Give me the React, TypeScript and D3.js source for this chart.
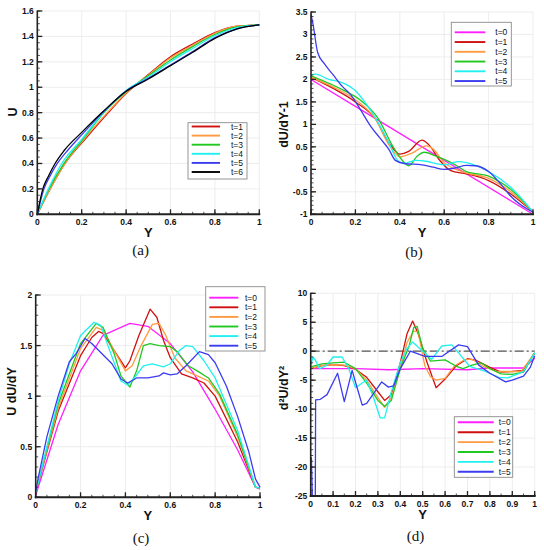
import { useEffect } from 'react';
import * as d3 from 'd3';

type Pt = [number, number];

// ---- panel (a): U vs Y
const aLabels = ['t=1', 't=2', 't=3', 't=4', 't=5', 't=6'];
const aT1: Pt[] = [[0, 0], [0.055, 0.19], [0.125, 0.4], [0.22, 0.6], [0.32, 0.8], [0.4, 0.95], [0.5, 1.1], [0.6, 1.24], [0.7, 1.34], [0.8, 1.43], [0.9, 1.48], [1, 1.49]];
const aT2: Pt[] = [[0, 0], [0.055, 0.19], [0.125, 0.4], [0.215, 0.6], [0.31, 0.79], [0.4, 0.955], [0.5, 1.095], [0.6, 1.23], [0.7, 1.33], [0.8, 1.425], [0.9, 1.48], [1, 1.49]];
const aT3: Pt[] = [[0, 0], [0.05, 0.19], [0.12, 0.4], [0.21, 0.6], [0.3, 0.8], [0.4, 0.965], [0.5, 1.09], [0.6, 1.215], [0.7, 1.32], [0.8, 1.415], [0.9, 1.475], [1, 1.49]];
const aT4: Pt[] = [[0, 0], [0.05, 0.2], [0.11, 0.4], [0.2, 0.59], [0.3, 0.805], [0.4, 0.975], [0.5, 1.08], [0.6, 1.2], [0.7, 1.305], [0.8, 1.405], [0.9, 1.47], [1, 1.49]];
const aT5: Pt[] = [[0, 0], [0.03, 0.2], [0.06, 0.31], [0.09, 0.4], [0.14, 0.51], [0.2, 0.625], [0.3, 0.81], [0.4, 0.97], [0.5, 1.07], [0.6, 1.175], [0.7, 1.28], [0.8, 1.39], [0.9, 1.46], [1, 1.49]];
const aT6: Pt[] = [[0, 0], [0.025, 0.2], [0.05, 0.3], [0.08, 0.4], [0.12, 0.5], [0.2, 0.645], [0.3, 0.815], [0.4, 0.968], [0.5, 1.065], [0.6, 1.17], [0.7, 1.275], [0.8, 1.385], [0.9, 1.46], [1, 1.49]];

// ---- panel (b): dU/dY-1 vs Y
const tLabels = ['t=0', 't=1', 't=2', 't=3', 't=4', 't=5'];
const bT0: Pt[] = [[0, 2], [0.5, 0.5], [1, -1]];
const bT1: Pt[] = [[0, 2.05], [0.1, 1.8], [0.2, 1.5], [0.29, 1.12], [0.35, 0.6], [0.4, 0.34], [0.44, 0.4], [0.5, 0.65], [0.53, 0.55], [0.58, 0.2], [0.63, -0.03], [0.7, -0.1], [0.8, -0.25], [0.9, -0.55], [1, -0.95]];
const bT2: Pt[] = [[0, 2.05], [0.1, 1.83], [0.2, 1.55], [0.29, 1.12], [0.35, 0.55], [0.4, 0.28], [0.45, 0.35], [0.52, 0.52], [0.55, 0.45], [0.6, 0.15], [0.68, -0.05], [0.8, -0.2], [0.9, -0.5], [1, -0.95]];
const bT3: Pt[] = [[0, 2.08], [0.15, 1.75], [0.22, 1.55], [0.3, 1.15], [0.37, 0.5], [0.42, 0.15], [0.44, 0.08], [0.48, 0.3], [0.51, 0.38], [0.56, 0.3], [0.6, 0.22], [0.65, 0.1], [0.7, -0.05], [0.8, -0.15], [0.9, -0.45], [1, -0.95]];
const bT4: Pt[] = [[0, 2.1], [0.02, 2.12], [0.08, 2.0], [0.14, 1.93], [0.2, 1.75], [0.27, 1.3], [0.35, 0.6], [0.39, 0.2], [0.42, 0.13], [0.47, 0.2], [0.52, 0.18], [0.57, 0.12], [0.6, 0.1], [0.66, 0.17], [0.7, 0.15], [0.8, -0.05], [0.9, -0.4], [1, -0.95]];
const bT5: Pt[] = [[0, 3.45], [0.01, 3.2], [0.03, 2.6], [0.06, 2.35], [0.1, 2.1], [0.14, 1.85], [0.18, 1.65], [0.22, 1.35], [0.27, 0.95], [0.31, 0.7], [0.35, 0.45], [0.38, 0.2], [0.42, 0.13], [0.5, 0.1], [0.55, 0.05], [0.6, 0.0], [0.65, 0.03], [0.7, 0.09], [0.74, 0.08], [0.8, -0.05], [0.85, -0.3], [0.9, -0.6], [0.98, -0.9], [1, -0.95]];

// ---- panel (c): U dU/dY vs Y
const cT0: Pt[] = [[0, 0.02], [0.1, 0.72], [0.2, 1.25], [0.3, 1.6], [0.42, 1.72], [0.5, 1.69], [0.6, 1.52], [0.7, 1.24], [0.8, 0.87], [0.9, 0.47], [0.98, 0.1], [1, 0.08]];
const cT1: Pt[] = [[0, 0.05], [0.1, 0.85], [0.2, 1.4], [0.25, 1.58], [0.28, 1.64], [0.3, 1.62], [0.35, 1.45], [0.4, 1.28], [0.42, 1.35], [0.46, 1.6], [0.51, 1.86], [0.54, 1.78], [0.57, 1.55], [0.6, 1.38], [0.65, 1.22], [0.7, 1.18], [0.75, 1.13], [0.8, 1.0], [0.9, 0.55], [0.98, 0.1], [1, 0.09]];
const cT2: Pt[] = [[0, 0.05], [0.1, 0.88], [0.2, 1.47], [0.27, 1.68], [0.3, 1.65], [0.35, 1.45], [0.4, 1.25], [0.43, 1.3], [0.47, 1.5], [0.52, 1.71], [0.55, 1.72], [0.58, 1.6], [0.62, 1.38], [0.67, 1.25], [0.72, 1.2], [0.77, 1.15], [0.82, 1.0], [0.9, 0.6], [0.98, 0.1], [1, 0.09]];
const cT3: Pt[] = [[0, 0.05], [0.1, 0.92], [0.2, 1.52], [0.27, 1.72], [0.3, 1.68], [0.35, 1.42], [0.38, 1.2], [0.42, 1.09], [0.45, 1.25], [0.48, 1.5], [0.51, 1.52], [0.55, 1.5], [0.6, 1.49], [0.63, 1.44], [0.68, 1.3], [0.72, 1.25], [0.77, 1.18], [0.82, 1.02], [0.9, 0.62], [0.98, 0.1], [1, 0.09]];
const cT4: Pt[] = [[0, 0.05], [0.05, 0.5], [0.1, 0.95], [0.15, 1.32], [0.2, 1.6], [0.26, 1.73], [0.29, 1.7], [0.33, 1.45], [0.38, 1.15], [0.41, 1.11], [0.44, 1.18], [0.48, 1.3], [0.52, 1.32], [0.57, 1.29], [0.6, 1.32], [0.64, 1.45], [0.67, 1.5], [0.7, 1.49], [0.75, 1.35], [0.8, 1.18], [0.9, 0.66], [0.98, 0.1], [1, 0.09]];
const cT5: Pt[] = [[0, 0.06], [0.01, 0.18], [0.05, 0.6], [0.1, 1.0], [0.15, 1.34], [0.18, 1.42], [0.22, 1.57], [0.25, 1.52], [0.3, 1.41], [0.34, 1.32], [0.38, 1.17], [0.41, 1.13], [0.45, 1.18], [0.5, 1.18], [0.55, 1.2], [0.57, 1.23], [0.6, 1.21], [0.63, 1.22], [0.67, 1.3], [0.73, 1.44], [0.77, 1.41], [0.8, 1.33], [0.85, 1.1], [0.9, 0.8], [0.95, 0.45], [0.98, 0.18], [1, 0.1]];

// ---- panel (d): d2U/dY2 vs Y
const dT0: Pt[] = [[0, -3], [0.2, -3], [0.35, -3.2], [0.5, -3], [0.7, -3.2], [0.8, -2.9], [0.95, -2.9], [1, -1.2]];
const dT1: Pt[] = [[0, -3], [0.05, -2.5], [0.1, -2.3], [0.15, -2.5], [0.2, -3.1], [0.25, -4.5], [0.3, -7], [0.33, -8.5], [0.36, -7.5], [0.4, -2], [0.43, 3], [0.455, 5.2], [0.48, 3], [0.52, -2], [0.56, -6.3], [0.6, -4.8], [0.65, -2.5], [0.7, -1.3], [0.74, -1.6], [0.8, -2.8], [0.85, -3.6], [0.9, -3.5], [0.95, -3.3], [1, -0.3]];
const dT2: Pt[] = [[0, -3], [0.05, -2.5], [0.1, -2.3], [0.15, -2.4], [0.2, -3], [0.25, -5], [0.3, -8], [0.33, -9.7], [0.36, -8], [0.4, -3], [0.43, 1.5], [0.46, 3.5], [0.48, 3.3], [0.51, -2.6], [0.535, -4.4], [0.56, -5], [0.6, -4.7], [0.64, -2.6], [0.69, -1.4], [0.72, -1.4], [0.77, -2.6], [0.83, -3.5], [0.94, -3.5], [1, -0.3]];
const dT3: Pt[] = [[0, -2.7], [0.05, -2.2], [0.1, -2.0], [0.15, -1.9], [0.2, -3], [0.25, -5.5], [0.3, -8.5], [0.33, -9.5], [0.36, -8.5], [0.4, -3], [0.44, 1], [0.46, 4.1], [0.475, 4.3], [0.5, 0.5], [0.535, -1.7], [0.6, -1.5], [0.65, -2.6], [0.68, -3], [0.72, -2.4], [0.76, -2], [0.8, -3], [0.85, -3.9], [0.9, -4], [0.95, -3.6], [1, -0.3]];
const dT4: Pt[] = [[0, -2.5], [0.01, -1], [0.02, -1.5], [0.04, -3], [0.07, -2.5], [0.1, -1], [0.14, -1], [0.17, -3], [0.2, -6.3], [0.23, -5.5], [0.25, -5], [0.28, -8], [0.31, -11.5], [0.33, -11.5], [0.36, -7], [0.4, -2], [0.43, 0.5], [0.455, 1.6], [0.5, 0], [0.54, -1.4], [0.585, 0.9], [0.63, 1.1], [0.66, -0.3], [0.71, -2.6], [0.78, -3.5], [0.84, -4.5], [0.88, -4.6], [0.92, -4], [0.95, -3.5], [1, -0.3]];
const dT5: Pt[] = [[0.003, -18.3], [0.012, -32], [0.02, -32], [0.022, -8.4], [0.043, -8.3], [0.073, -7.5], [0.12, -3.8], [0.15, -8.7], [0.185, -3.3], [0.205, -6], [0.23, -9.3], [0.25, -9], [0.317, -5.3], [0.347, -6.2], [0.37, -6], [0.4, -3], [0.445, 0], [0.51, -0.9], [0.585, -0.9], [0.66, 1.1], [0.7, 0.8], [0.75, -2.4], [0.8, -3.8], [0.87, -5.3], [0.9, -5], [0.95, -4.3], [0.98, -2.8], [1, -0.8]];

const colorsA = ['#d01010', '#ff9a40', '#20c820', '#20f0f0', '#3c3cf0', '#000000'];
const colorsB = ['#ff20ff', '#d01010', '#ff9a40', '#20c820', '#20f0f0', '#3c3cf0'];

const font = "'Liberation Sans', Arial, sans-serif";

interface PanelProps {
  id: string;
  left: number; right: number; top: number; bottom: number;
  xDomain: [number, number]; yDomain: [number, number];
  xStep: number; yStep: number; xMinor: number; yMinor: number;
  series: Pt[][]; colors: string[]; labels: string[];
  curve: d3.CurveFactory;
  legend: { x0: number; x1: number; y0: number; y1: number; row0: number; rowH: number; l0: number; l1: number; tx: number };
  yTitle: string; yTitlePos: [number, number];
  caption: string; capPos: [number, number];
  zeroLine?: boolean;
}

const fmt = (v: number) => String(+v.toFixed(2));

function Panel(p: PanelProps) {
  const x = d3.scaleLinear().domain(p.xDomain).range([p.left, p.right]);
  const y = d3.scaleLinear().domain(p.yDomain).range([p.bottom, p.top]);
  const line = d3.line<Pt>().x(d => x(d[0])).y(d => y(d[1])).curve(p.curve);
  const xMaj = d3.range(p.xDomain[0], p.xDomain[1] + p.xStep / 2, p.xStep);
  const yMaj = d3.range(p.yDomain[0], p.yDomain[1] + p.yStep / 2, p.yStep);
  const xMin = d3.range(p.xDomain[0], p.xDomain[1] + 1e-9, p.xStep / p.xMinor);
  const yMin = d3.range(p.yDomain[0], p.yDomain[1] + 1e-9, p.yStep / p.yMinor);
  const L = p.legend;
  return (
    <g>
      <defs>
        <clipPath id={`clip-${p.id}`}>
          <rect x={p.left} y={p.top - 2} width={p.right - p.left + 2} height={p.bottom - p.top + 2} />
        </clipPath>
      </defs>
      {xMaj.map((v, i) => (
        <line key={`gx${i}`} x1={x(v)} x2={x(v)} y1={p.top} y2={p.bottom} stroke="#e8e8e8" strokeWidth={0.8} />
      ))}
      {yMaj.map((v, i) => (
        <line key={`gy${i}`} x1={p.left} x2={p.right} y1={y(v)} y2={y(v)} stroke="#e8e8e8" strokeWidth={0.8} />
      ))}
      {p.zeroLine && (
        <line x1={x(p.xDomain[0])} x2={x(p.xDomain[1])} y1={y(0)} y2={y(0)} stroke="#555" strokeWidth={1.3} strokeDasharray="9 3 2 3" />
      )}
      <g clipPath={`url(#clip-${p.id})`}>
        {p.series.map((s, i) => (
          <path key={i} d={line(s) ?? ''} fill="none" stroke={p.colors[i]} strokeWidth={1.3} strokeLinejoin="round" />
        ))}
      </g>
      {/* axes */}
      <line x1={p.left} x2={p.left} y1={p.top - 0.5} y2={p.bottom + 1} stroke="#222" strokeWidth={1.6} />
      <line x1={p.left - 1} x2={p.right + 1} y1={p.bottom} y2={p.bottom} stroke="#222" strokeWidth={2} />
      {xMin.map((v, i) => (
        <line key={`mx${i}`} x1={x(v)} x2={x(v)} y1={p.bottom} y2={p.bottom - 2.5} stroke="#222" strokeWidth={0.8} />
      ))}
      {yMin.map((v, i) => (
        <line key={`my${i}`} x1={p.left} x2={p.left + 2.5} y1={y(v)} y2={y(v)} stroke="#222" strokeWidth={0.8} />
      ))}
      {xMaj.map((v, i) => (
        <g key={`tx${i}`}>
          <line x1={x(v)} x2={x(v)} y1={p.bottom} y2={p.bottom - 5} stroke="#222" strokeWidth={1.3} />
          <text x={x(v)} y={p.bottom + 10.5} textAnchor="middle" fontFamily={font} fontWeight="bold" fontSize={8.5} fill="#111">{fmt(v)}</text>
        </g>
      ))}
      {yMaj.map((v, i) => (
        <g key={`ty${i}`}>
          <line x1={p.left} x2={p.left + 5} y1={y(v)} y2={y(v)} stroke="#222" strokeWidth={1.3} />
          <text x={p.left - 3.5} y={y(v) + 3} textAnchor="end" fontFamily={font} fontWeight="bold" fontSize={8.5} fill="#111">{fmt(v)}</text>
        </g>
      ))}
      <text x={(p.left + p.right) / 2} y={p.bottom + 23} textAnchor="middle" fontFamily={font} fontWeight="bold" fontSize={13} fill="#111">Y</text>
      <text transform={`translate(${p.yTitlePos[0]},${p.yTitlePos[1]}) rotate(-90)`} textAnchor="middle" fontFamily={font} fontWeight="bold" fontSize={12.5} fill="#111">{p.yTitle}</text>
      {/* legend */}
      <rect x={L.x0} y={L.y0} width={L.x1 - L.x0} height={L.y1 - L.y0} fill="#fff" stroke="#8a8a8a" strokeWidth={0.9} />
      {p.labels.map((lab, i) => (
        <g key={`lg${i}`}>
          <line x1={L.l0} x2={L.l1} y1={L.row0 + i * L.rowH} y2={L.row0 + i * L.rowH} stroke={p.colors[i]} strokeWidth={1.9} />
          <text x={L.tx} y={L.row0 + i * L.rowH + 3} fontFamily={font} fontSize={8.5} fill="#111">{lab}</text>
        </g>
      ))}
      <text x={p.capPos[0]} y={p.capPos[1]} textAnchor="middle" fontFamily="'Liberation Serif', 'DejaVu Serif', serif" fontSize={15} fill="#111">{p.caption}</text>
    </g>
  );
}

export default function App() {
  useEffect(() => {
    document.body.style.margin = '0';
  }, []);
  return (
    <svg width={544} height={550} style={{ display: 'block', background: '#fff' }}>
      <Panel
        id="a" left={37.3} right={259.3} top={11} bottom={214.3}
        xDomain={[0, 1]} yDomain={[0, 1.6]} xStep={0.2} yStep={0.2} xMinor={4} yMinor={4}
        series={[aT1, aT2, aT3, aT4, aT5, aT6]} colors={colorsA} labels={aLabels}
        curve={d3.curveMonotoneX}
        legend={{ x0: 188, x1: 247, y0: 122.7, y1: 179, row0: 126.5, rowH: 9.1, l0: 191.7, l1: 220, tx: 231 }}
        yTitle="U" yTitlePos={[16.5, 112]}
        caption="(a)" capPos={[140.7, 254.5]}
      />
      <Panel
        id="b" left={311} right={533} top={12} bottom={214.3}
        xDomain={[0, 1]} yDomain={[-1, 3.5]} xStep={0.2} yStep={0.5} xMinor={4} yMinor={5}
        series={[bT0, bT1, bT2, bT3, bT4, bT5]} colors={colorsB} labels={tLabels}
        curve={d3.curveMonotoneX}
        legend={{ x0: 451.3, x1: 511.3, y0: 22.3, y1: 86, row0: 32.3, rowH: 9.75, l0: 454.7, l1: 485.3, tx: 495.3 }}
        yTitle="dU/dY-1" yTitlePos={[288, 124.5]}
        caption="(b)" capPos={[414, 256.5]}
      />
      <Panel
        id="c" left={35.7} right={260} top={295} bottom={497.3}
        xDomain={[0, 1]} yDomain={[0, 2]} xStep={0.2} yStep={0.5} xMinor={4} yMinor={5}
        series={[cT0, cT1, cT2, cT3, cT4, cT5]} colors={colorsB} labels={tLabels}
        curve={d3.curveLinear}
        legend={{ x0: 205.7, x1: 265, y0: 286.7, y1: 351, row0: 297.7, rowH: 9.6, l0: 209.3, l1: 238.3, tx: 245 }}
        yTitle="U dU/dY" yTitlePos={[16, 391.5]}
        caption="(c)" capPos={[141, 543]}
      />
      <Panel
        id="d" left={310.7} right={534.7} top={293.3} bottom={496}
        xDomain={[0, 1]} yDomain={[-25, 10]} xStep={0.1} yStep={5} xMinor={2} yMinor={5}
        series={[dT0, dT1, dT2, dT3, dT4, dT5]} colors={colorsB} labels={tLabels}
        curve={d3.curveLinear}
        legend={{ x0: 454.3, x1: 512.7, y0: 416.7, y1: 477.3, row0: 422.3, rowH: 9.9, l0: 457.7, l1: 493.7, tx: 498.7 }}
        yTitle="d²U/dY²" yTitlePos={[288, 388]}
        caption="(d)" capPos={[415.5, 541]}
        zeroLine
      />
    </svg>
  );
}
